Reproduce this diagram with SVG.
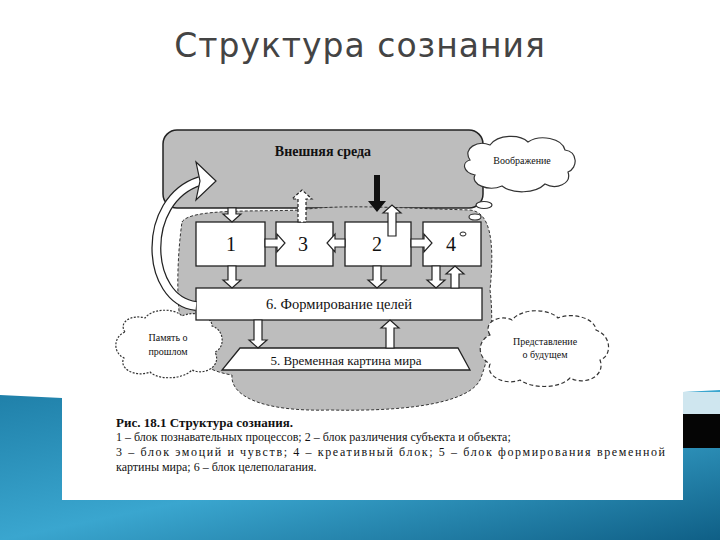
<svg xmlns="http://www.w3.org/2000/svg" width="720" height="540" viewBox="0 0 720 540">
<defs>
<linearGradient id="bg" x1="0" y1="0" x2="1" y2="1"><stop offset="0" stop-color="#1f7fa8"/><stop offset="0.5" stop-color="#3aa6cf"/><stop offset="1" stop-color="#0f5f86"/></linearGradient>
<style>
.t{font-family:"Liberation Serif",serif;fill:#111}
.box{fill:#fff;stroke:#222;stroke-width:1.3}
.ha{fill:#fff;stroke:#222;stroke-width:1.2}
.cl{fill:#fff;stroke:#333;stroke-width:1.2}
</style>
</defs>
<rect width="720" height="540" fill="#fff"/>
<path d="M0,395 L62,398 L62,500 L683,500 L683,392 L720,390 L720,540 L0,540 Z" fill="url(#bg)"/>
<rect x="683" y="414" width="37" height="34" fill="#050505"/>
<rect x="683" y="392" width="37" height="22" fill="#cfe6ef"/>
<text x="360" y="57" text-anchor="middle" font-family="DejaVu Sans,sans-serif" font-size="33" fill="#444" letter-spacing="1">Структура сознания</text>
<rect x="62" y="88" width="620" height="412" fill="#fff"/>
<g id="env"><rect x="163" y="130" width="320" height="78" rx="14" fill="#bdbdbd" stroke="#222" stroke-width="1.5"/>
<text class="t" x="323" y="156" text-anchor="middle" font-size="14" font-weight="bold">Внешняя среда</text></g>
<g id="region"><path d="M182,222 C190,208 260,212 300,210 C340,204 400,208 470,210 C490,212 495,240 490,290 C495,330 488,360 480,380 C470,400 420,412 330,410 C260,412 230,395 232,375 C200,370 178,350 180,320 C176,290 178,250 182,222 Z" fill="#bdbdbd" stroke="#333" stroke-width="1" stroke-dasharray="3,2"/></g>
<g id="imag"><path d="M470,160 C462,148 478,140 490,145 C498,134 520,134 528,142 C540,134 562,138 565,150 C578,152 578,168 568,172 C572,184 556,190 545,184 C535,194 512,194 502,186 C488,192 470,184 475,175 C462,172 462,162 470,160 Z" class="cl"/>
<text class="t" x="522" y="164" text-anchor="middle" font-size="10">Воображение</text>
<ellipse cx="484" cy="205" rx="8" ry="3.5" class="cl"/><ellipse cx="475" cy="217" rx="6" ry="3" class="cl"/></g>
<g id="past"><path d="M125,332 C118,322 132,314 145,318 C152,308 175,308 182,316 C195,310 212,316 212,326 C225,330 225,348 215,352 C222,366 205,376 192,370 C182,380 158,380 150,372 C135,378 118,368 124,358 C112,352 114,336 125,332 Z" class="cl" stroke-dasharray="2,1.5"/>
<text class="t" x="168" y="341" text-anchor="middle" font-size="10">Память о</text>
<text class="t" x="168" y="355" text-anchor="middle" font-size="10">прошлом</text></g>
<g id="future"><path d="M490,335 C482,322 500,314 512,320 C522,308 548,308 558,318 C572,312 595,318 596,330 C612,336 612,356 600,360 C606,376 585,386 570,378 C558,390 530,388 520,380 C505,386 485,376 490,364 C476,356 478,340 490,335 Z" class="cl" stroke-dasharray="4,2.5" stroke-width="1.5"/>
<text class="t" x="545" y="345" text-anchor="middle" font-size="10">Представление</text>
<text class="t" x="545" y="358" text-anchor="middle" font-size="10">о будущем</text></g>
<g id="n1"><rect class="box" x="196" y="222" width="69" height="44"/><text class="t" x="231" y="251" text-anchor="middle" font-size="20">1</text></g>
<g id="n3"><rect class="box" x="276" y="222" width="57" height="44"/><text class="t" x="303" y="251" text-anchor="middle" font-size="20">3</text></g>
<g id="n2"><rect class="box" x="345" y="222" width="66" height="44"/><text class="t" x="377" y="251" text-anchor="middle" font-size="20">2</text></g>
<g id="n4"><rect class="box" x="423" y="222" width="58" height="44"/><text class="t" x="451" y="251" text-anchor="middle" font-size="20">4</text><ellipse cx="463" cy="234" rx="3" ry="2" fill="none" stroke="#222"/></g>
<g id="n6"><rect class="box" x="196" y="288" width="286" height="32"/><text class="t" x="339" y="309" text-anchor="middle" font-size="14.5">6. Формирование целей</text></g>
<g id="n5"><path class="box" d="M240,348 L458,348 L470,370 L222,370 Z"/><text class="t" x="346" y="365" text-anchor="middle" font-size="13">5. Временная картина мира</text></g>
<g id="connectors">
<polygon class="ha" points="228,208 236,208 236,214 241,214 232,222 223,214 228,214"/>
<polygon class="ha" points="228,266 236,266 236,280 241,280 232,288 223,280 228,280"/>
<polygon class="ha" points="373,266 381,266 381,280 386,280 377,288 368,280 373,280"/>
<polygon class="ha" points="432,266 440,266 440,280 445,280 436,288 427,280 432,280"/>
<polygon class="ha" points="451,288 459,288 459,274 464,274 455,266 446,274 451,274"/>
<polygon class="ha" points="254,320 262,320 262,340 267,340 258,348 249,340 254,340"/>
<polygon class="ha" points="386,348 394,348 394,328 399,328 390,320 381,328 386,328"/>
<polygon class="ha" stroke-dasharray="3,2" points="298,222 306,222 306,199 312,199 302,190 292,199 298,199"/>
<polygon class="ha" points="388,236 396,236 396,213 401,213 392,205 383,213 388,213"/>
<polygon fill="#111" points="374,175 380,175 380,201 386,201 377,212 368,201 374,201"/>
<polygon class="ha" points="265,239 277,239 277,234 285,243 277,252 277,247 265,247"/>
<polygon class="ha" points="345,239 335,239 335,234 327,243 335,252 335,247 345,247"/>
<polygon class="ha" points="411,239 424,239 424,234 432,243 424,252 424,247 411,247"/>
<path d="M196,306 C145,300 140,200 200,181" fill="none" stroke="#222" stroke-width="10"/>
<path d="M196,306 C145,300 140,200 200,181" fill="none" stroke="#fff" stroke-width="7.5"/>
<polygon class="ha" points="196,162 216,181 196,200 200,181"/>
</g>
<g id="caption">
<text class="t" x="116" y="427" font-size="13" font-weight="bold">Рис. 18.1 Структура сознания.</text>
<text class="t" x="116" y="441" font-size="12">1 – блок познавательных процессов; 2 – блок различения субъекта и объекта;</text>
<text class="t" x="116" y="456" font-size="12" textLength="549" lengthAdjust="spacing">3 – блок эмоций и чувств; 4 – креативный блок; 5 – блок формирования временной</text>
<text class="t" x="116" y="471" font-size="12">картины мира; 6 – блок целеполагания.</text>
</g>
</svg>
